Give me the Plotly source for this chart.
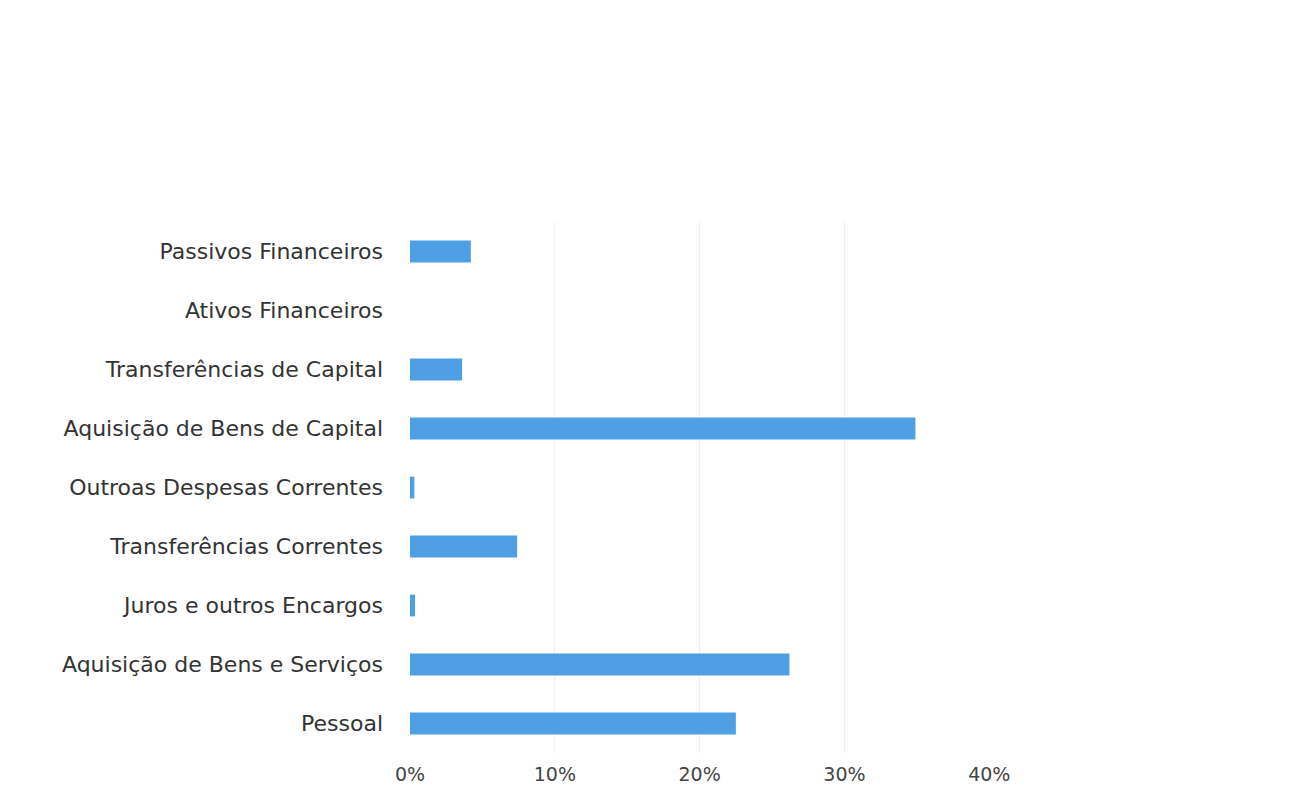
import plotly.graph_objects as go

categories = [
    "Pessoal",
    "Aquisição de Bens e Serviços",
    "Juros e outros Encargos",
    "Transferências Correntes",
    "Outroas Despesas Correntes",
    "Aquisição de Bens de Capital",
    "Transferências de Capital",
    "Ativos Financeiros",
    "Passivos Financeiros",
]
values = [0.225, 0.262, 0.0035, 0.074, 0.003, 0.349, 0.036, 0.0, 0.042]
tick_vals = [0, 0.1, 0.2, 0.3, 0.4]
tick_text = ["0%", "10%", "20%", "30%", "40%"]

fig = go.Figure(
    go.Bar(
        x=values,
        y=categories,
        orientation="h",
        marker=dict(color="#4E9FE3", line=dict(width=0)),
        width=0.37,
    )
)

fig.update_layout(
    width=1308,
    height=798,
    margin=dict(l=402, r=326, t=214, b=53, autoexpand=False),
    paper_bgcolor="white",
    plot_bgcolor="white",
    showlegend=False,
    font=dict(family="DejaVu Sans, sans-serif", color="#333333"),
)
fig.update_xaxes(
    range=[0, 0.4005],
    tickvals=tick_vals,
    ticktext=tick_text,
    showgrid=True,
    gridcolor="#f0f0f0",
    gridwidth=1,
    zeroline=False,
    showline=False,
    tickfont=dict(size=19, color="#444444"),
    ticks="",
    ticklabelstandoff=8,
    automargin=False,
)
fig.update_yaxes(
    showgrid=False,
    zeroline=False,
    showline=False,
    ticks="",
    tickfont=dict(size=22, color="#333333"),
    ticklabelstandoff=26,
    automargin=False,
)

fig.write_html("out.html")
